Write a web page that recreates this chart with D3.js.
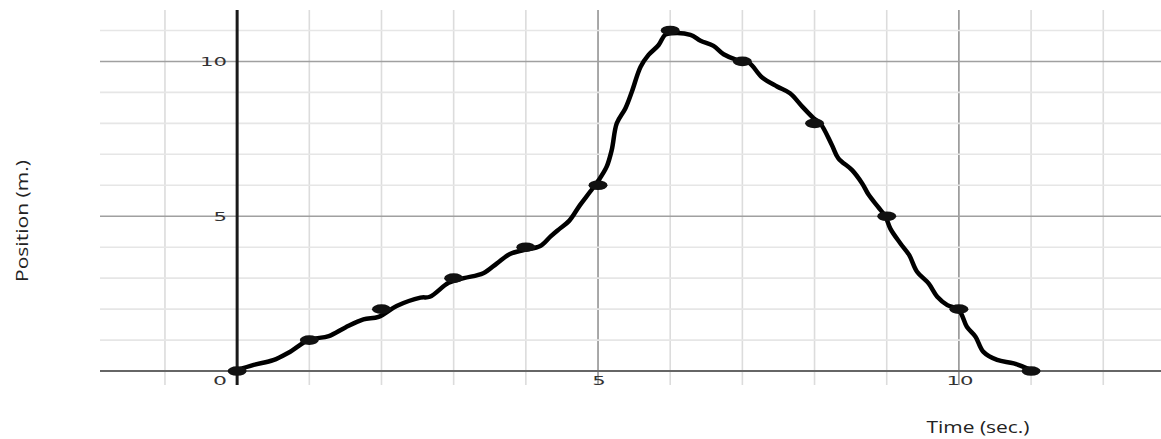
<!DOCTYPE html>
<html>
<head>
<meta charset="utf-8">
<script src="https://cdn.jsdelivr.net/npm/d3@7"></script>
<style>
  html, body { margin: 0; padding: 0; background: #fff; }
  svg { display: block; }
</style>
</head>
<body>
<svg id="chart" width="1161" height="439"></svg>
<script>
// ---- data ----
const traceTime = [0, 0.23, 0.5, 0.71, 0.99, 1.27, 1.5, 1.75, 1.96, 2.21, 2.54, 2.67, 2.93, 3.14, 3.41, 3.6, 3.78, 3.97, 4.2, 4.34, 4.45, 4.6, 4.75, 4.89, 5.01, 5.12, 5.19, 5.26, 5.38, 5.47, 5.59, 5.7, 5.84, 5.93, 6.02, 6.28, 6.42, 6.6, 6.74, 6.92, 7.09, 7.27, 7.48, 7.66, 7.83, 7.99, 8.08, 8.24, 8.33, 8.52, 8.66, 8.75, 8.88, 8.98, 9.05, 9.19, 9.31, 9.42, 9.58, 9.7, 9.84, 10.0, 10.11, 10.23, 10.34, 10.53, 10.76, 10.99];
const tracePos  = [0.03, 0.2, 0.35, 0.59, 1.0, 1.13, 1.41, 1.67, 1.75, 2.1, 2.37, 2.4, 2.85, 3.0, 3.16, 3.48, 3.78, 3.91, 4.04, 4.34, 4.56, 4.85, 5.36, 5.79, 6.17, 6.6, 7.14, 8.0, 8.49, 9.03, 9.83, 10.21, 10.53, 10.86, 10.91, 10.86, 10.67, 10.5, 10.23, 10.05, 9.96, 9.49, 9.19, 8.97, 8.54, 8.16, 8.0, 7.3, 6.87, 6.49, 6.06, 5.69, 5.3, 5.0, 4.6, 4.12, 3.75, 3.21, 2.83, 2.4, 2.13, 1.97, 1.43, 1.11, 0.62, 0.36, 0.25, 0.05];
const dotTime = [0, 1, 2, 3, 4, 5, 6, 7, 8, 9, 10, 11];
const dotPos  = [0, 1, 2, 3, 4, 6, 11, 10, 8, 5, 2, 0];
const xGrid = [-1, 0, 1, 2, 3, 4, 5, 6, 7, 8, 9, 10, 11, 12];
const yGrid = [0, 1, 2, 3, 4, 5, 6, 7, 8, 9, 10, 11];
const xTickLabels = [5, 10];
const yTickLabels = [5, 10];
const xTitle = "Time (sec.)";
const yTitle = "Position (m.)";

// ---- scales ----
const svg = d3.select("#chart");
const x = d3.scaleLinear().domain([-1.9, 12.8]).range([100, 1161]);
const y = d3.scaleLinear().domain([-0.45, 11.66]).range([385, 10]);

const isMajor = v => v !== 0 && v % 5 === 0;

// vertical grid
svg.append("g").selectAll("line").data(xGrid.filter(v => v !== 0)).join("line")
  .attr("x1", d => x(d)).attr("x2", d => x(d))
  .attr("y1", y.range()[1]).attr("y2", y.range()[0])
  .attr("stroke", d => isMajor(d) ? "#8c8c8c" : "#dcdcdc")
  .attr("stroke-width", d => isMajor(d) ? 1.5 : 1.6);

// horizontal grid
svg.append("g").selectAll("line").data(yGrid.filter(v => v !== 0)).join("line")
  .attr("x1", x.range()[0]).attr("x2", x.range()[1])
  .attr("y1", d => y(d)).attr("y2", d => y(d))
  .attr("stroke", d => isMajor(d) ? "#a0a0a0" : "#e6e6e6")
  .attr("stroke-width", d => isMajor(d) ? 1.5 : 1.6);

// x axis (y=0)
svg.append("line")
  .attr("x1", x.range()[0]).attr("x2", x.range()[1])
  .attr("y1", y(0)).attr("y2", y(0))
  .attr("stroke", "#666").attr("stroke-width", 2);

// y axis (x=0)
svg.append("line")
  .attr("x1", x(0)).attr("x2", x(0))
  .attr("y1", y.range()[1]).attr("y2", y.range()[0])
  .attr("stroke", "#1a1a1a").attr("stroke-width", 3);

// tick labels
const tickFont = "'DejaVu Sans', sans-serif";
const lg = svg.append("g").attr("font-family", tickFont).attr("font-size", 13).attr("fill", "#333");
lg.selectAll("text.yl").data(yTickLabels).join("text").attr("class", "yl")
  .attr("x", x(0) - 10).attr("y", d => y(d) + 5)
  .attr("text-anchor", "end")
  .attr("textLength", d => String(d).length * 13.5)
  .attr("lengthAdjust", "spacingAndGlyphs")
  .text(d => d);
lg.append("text")
  .attr("x", x(0) - 10).attr("y", y(0) + 14)
  .attr("text-anchor", "end")
  .attr("textLength", 14).attr("lengthAdjust", "spacingAndGlyphs")
  .text("0");
lg.selectAll("text.xl").data(xTickLabels).join("text").attr("class", "xl")
  .attr("x", d => x(d) + 1).attr("y", y(0) + 14)
  .attr("text-anchor", "middle")
  .attr("textLength", d => String(d).length * 13.5)
  .attr("lengthAdjust", "spacingAndGlyphs")
  .text(d => d);

// axis titles
svg.append("text")
  .attr("x", 978).attr("y", 433)
  .attr("text-anchor", "middle")
  .attr("font-family", "'Open Sans', sans-serif").attr("font-size", 16)
  .attr("fill", "#222")
  .attr("textLength", 103).attr("lengthAdjust", "spacingAndGlyphs")
  .text(xTitle);
svg.append("text")
  .attr("transform", "translate(28,221) rotate(-90)")
  .attr("text-anchor", "middle")
  .attr("font-family", "'Open Sans', sans-serif").attr("font-size", 17)
  .attr("fill", "#222")
  .attr("textLength", 122).attr("lengthAdjust", "spacingAndGlyphs")
  .text(yTitle);

// curve
const pts = traceTime.map((t, i) => [t, tracePos[i]]);
const line = d3.line().x(d => x(d[0])).y(d => y(d[1])).curve(d3.curveCatmullRom.alpha(0.5));
svg.append("path").datum(pts)
  .attr("d", line)
  .attr("fill", "none").attr("stroke", "#000")
  .attr("stroke-width", 4.5).attr("stroke-linejoin", "round").attr("stroke-linecap", "round");

// dots
svg.append("g").selectAll("ellipse").data(dotTime.map((t, i) => [t, dotPos[i]])).join("ellipse")
  .attr("cx", d => x(d[0])).attr("cy", d => y(d[1]))
  .attr("rx", 9.5).attr("ry", 4.8)
  .attr("fill", "#111");
</script>
</body>
</html>
